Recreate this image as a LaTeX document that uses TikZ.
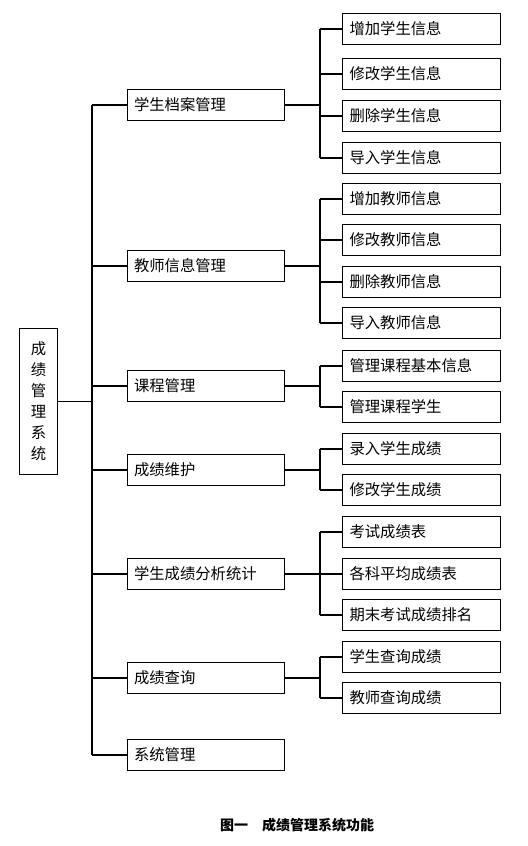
\documentclass[tikz,border=0pt]{standalone}
\usepackage{fontspec}
\newfontfamily\cjk{Noto Sans CJK SC}
\usetikzlibrary{positioning}
\tikzset{
    fun root/.style={
        draw,
        line width=0.8pt,
        minimum width=28pt,
        minimum height=109pt,
        inner sep=0pt,
        align=center,
        font=\cjk\fontsize{11.5}{15.75}\selectfont
    },
    fun box/.style={
        draw,
        line width=0.8pt,
        text width=108pt,
        inner xsep=5pt,
        inner ysep=0pt,
        minimum height=23.25pt,
        align=left,
        font=\cjk\fontsize{11.5}{13}\selectfont
    },
    fun link/.style={line width=0.8pt},
    fun caption/.style={font=\cjk\bfseries\fontsize{10.5}{12}\selectfont}
}

\begin{document}
\begin{tikzpicture}[x=0.75pt,y=-0.75pt]
    \useasboundingbox (0,0) rectangle (528,846);

    \node[fun root] (sys) at (38.5,401.5) {成\\绩\\管\\理\\系\\统};

    \node[fun box] (xsda) at (206,105) {学生档案管理};
    \node[fun box] (jsxx) at (206,266) {教师信息管理};
    \node[fun box] (kcgl) at (206,386) {课程管理};
    \node[fun box] (cjwh) at (206,470) {成绩维护};
    \node[fun box] (cjfx) at (206,574) {学生成绩分析统计};
    \node[fun box] (cjcx) at (206,678) {成绩查询};
    \node[fun box] (xtgl) at (206,755) {系统管理};

    \node[fun box] (zjxs) at (421.5,29) {增加学生信息};
    \node[fun box] (xgxs) at (421.5,74) {修改学生信息};
    \node[fun box] (scxs) at (421.5,116) {删除学生信息};
    \node[fun box] (drxs) at (421.5,158) {导入学生信息};
    \node[fun box] (zjjs) at (421.5,199) {增加教师信息};
    \node[fun box] (xgjs) at (421.5,240) {修改教师信息};
    \node[fun box] (scjs) at (421.5,282) {删除教师信息};
    \node[fun box] (drjs) at (421.5,323) {导入教师信息};
    \node[fun box] (kcxx) at (421.5,366) {管理课程基本信息};
    \node[fun box] (kcxs) at (421.5,407) {管理课程学生};
    \node[fun box] (lrcj) at (421.5,449) {录入学生成绩};
    \node[fun box] (xgcj) at (421.5,490) {修改学生成绩};
    \node[fun box] (kscj) at (421.5,532) {考试成绩表};
    \node[fun box] (pjcj) at (421.5,574) {各科平均成绩表};
    \node[fun box] (qmpm) at (421.5,615) {期末考试成绩排名};
    \node[fun box] (xscx) at (421.5,657) {学生查询成绩};
    \node[fun box] (jscx) at (421.5,698) {教师查询成绩};

    \coordinate (main) at (92,0);
    \coordinate (sub) at (320,0);

    \draw[fun link] (sys.east) -- (main |- sys.east);
    \draw[fun link] (main |- xsda.west) -- (main |- xtgl.west);
    \foreach \n in {xsda,jsxx,kcgl,cjwh,cjfx,cjcx,xtgl} {
        \draw[fun link] (main |- \n.west) -- (\n.west);
    }

    \foreach \p/\a/\b in {xsda/zjxs/drxs,jsxx/zjjs/drjs,kcgl/kcxx/kcxs,cjwh/lrcj/xgcj,cjfx/kscj/qmpm,cjcx/xscx/jscx} {
        \draw[fun link] (\p.east) -- (sub |- \p.east);
        \draw[fun link] (sub |- \a.west) -- (sub |- \b.west);
    }
    \foreach \c in {zjxs,xgxs,scxs,drxs,zjjs,xgjs,scjs,drjs,kcxx,kcxs,lrcj,xgcj,kscj,pjcj,qmpm,xscx,jscx} {
        \draw[fun link] (sub |- \c.west) -- (\c.west);
    }

    \node[fun caption] (cap) at (297,825) {图一　成绩管理系统功能};
\end{tikzpicture}
\end{document}
